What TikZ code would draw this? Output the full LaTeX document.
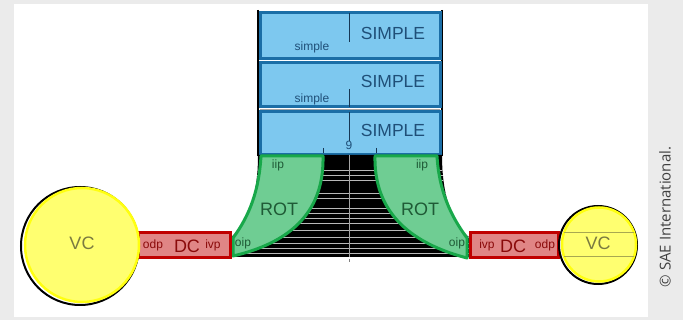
\documentclass[tikz,border=0pt]{standalone}
\usepackage{fontspec}
\setmainfont{Liberation Sans}
\newfontfamily\copyfont{Open Sans}
\definecolor{bluefill}{HTML}{7DC8EF}
\definecolor{blueedge}{HTML}{1B6EA6}
\definecolor{bluetext}{HTML}{1F4F78}
\definecolor{greenfill}{HTML}{6FCD93}
\definecolor{greenedge}{HTML}{18A84A}
\definecolor{greentext}{HTML}{1F5A36}
\definecolor{redfill}{HTML}{E08585}
\definecolor{rededge}{HTML}{C00000}
\definecolor{redtext}{HTML}{8A0A0A}
\definecolor{yelfill}{HTML}{FFFF70}
\definecolor{yeledge}{HTML}{FFFF10}
\definecolor{oltext}{HTML}{7A7A40}
\definecolor{olline}{HTML}{A8A850}
\definecolor{bggray}{HTML}{EBEBEB}
\tikzset{
  simplebox/.style={draw=blueedge,fill=bluefill,line width=3pt},
  rotshape/.style={draw=greenedge,fill=greenfill,line width=3pt,line join=round},
  dcbox/.style={draw=rededge,fill=redfill,line width=3pt},
  vcback/.style={draw=black,line width=2pt},
  vcface/.style={draw=yeledge,fill=yelfill,line width=2.5pt},
  bigblue/.style={text=bluetext,font=\fontsize{17.5}{17.5}\selectfont},
  smallblue/.style={text=bluetext,font=\fontsize{12}{12}\selectfont},
  bigtext/.style={font=\fontsize{18}{18}\selectfont},
  smalltext/.style={font=\fontsize{12}{12}\selectfont},
}
\begin{document}
\begin{tikzpicture}[x=1pt,y=-1pt]
\useasboundingbox (0,0) rectangle (683,320);
\fill[bggray] (0,0) rectangle (683,320);
\fill[white] (14,4) rectangle (648,317);

% black frame lines of the stack
\draw[black,line width=1.2pt] (258,10) -- (258,156);
\draw[black,line width=1.2pt] (442,10) -- (442,156);

% blue boxes
\draw[simplebox] (260,13) rectangle (440,59);
\draw[simplebox] (260,63) rectangle (440,107);
\draw[simplebox] (260,112) rectangle (440,155);
\draw[gray!70,line width=0.8pt] (260,109.5) -- (440,109.5);
\draw[bluetext!70!black,line width=0.6pt] (349,13) -- (349,42);
\draw[bluetext!70!black,line width=0.6pt] (349,89) -- (349,107);
\draw[bluetext!70!black,line width=0.6pt] (349,112) -- (349,141);
\node[bigblue] (s1) at (393,33) {SIMPLE};
\node[bigblue] (s2) at (393,81) {SIMPLE};
\node[bigblue] (s3) at (393,130) {SIMPLE};
\node[smallblue] (l1) at (312,47) {simple};
\node[smallblue] (l2) at (312,99) {simple};
\draw[bluetext!70!black,line width=0.6pt] (323,148) -- (323,153);
\draw[bluetext!70!black,line width=0.6pt] (376,148) -- (376,153);
\node[smallblue] (nine) at (349,145) {9};

% black bell region
\fill[black] (258,155) .. controls (258,200) and (246,225) .. (230,238) -- (230,257) -- (470,257) -- (470,238) .. controls (454,225) and (442,200) .. (442,155) -- cycle;
\begin{scope}
\clip (258,155) .. controls (258,200) and (246,225) .. (230,238) -- (230,257) -- (470,257) -- (470,238) .. controls (454,225) and (442,200) .. (442,155) -- cycle;
\foreach \yy in {170,175,180,193,198,208,213,218,223,230,237,243,248,253}
  \draw[gray!55,line width=0.4pt] (225,\yy) -- (475,\yy);
\end{scope}
\draw[gray!70,line width=0.5pt] (349,155) -- (349,257);
\draw[gray,line width=0.5pt] (349,259) -- (349,262);

% ROT shapes
\draw[rotshape] (261,156) -- (323,156) .. controls (324,202) and (302,240) .. (233,256) -- (233,238) .. controls (250,215) and (259,190) .. cycle;
\draw[rotshape] (437,156) -- (375,156) .. controls (374,202) and (398,240) .. (467,258) -- (467,238) .. controls (450,215) and (439,190) .. cycle;
\node[smalltext,text=greentext] (iipL) at (278,165) {iip};
\node[smalltext,text=greentext] (iipR) at (422,165) {iip};
\node[bigtext,text=greentext] (rotL) at (279,209) {ROT};
\node[bigtext,text=greentext] (rotR) at (420,209) {ROT};

% DC boxes
\draw[dcbox] (138,233) rectangle (230,258);
\draw[dcbox] (470,233) rectangle (558,258);
\node[smalltext,text=redtext] (odpL) at (153,245) {odp};
\node[bigtext,text=redtext] (dcL) at (187,246) {DC};
\node[smalltext,text=redtext] (ivpL) at (213,245) {ivp};
\node[smalltext,text=redtext] (ivpR) at (487,245) {ivp};
\node[bigtext,text=redtext] (dcR) at (513,246) {DC};
\node[smalltext,text=redtext] (odpR) at (545,245) {odp};
\node[smalltext,text=greentext] (oipL) at (243,243) {oip};
\node[smalltext,text=greentext] (oipR) at (457,243) {oip};

% VC circles
\draw[vcback] (80,246) circle (59);
\draw[vcface] (82,245) circle (57);
\node[bigtext,text=oltext] (vcL) at (82,243) {VC};
\draw[vcback] (598,245) circle (39);
\draw[vcface] (599,244.5) circle (37);
\draw[olline,line width=1pt] (564,233) -- (634,233);
\draw[olline,line width=1pt] (564,257) -- (634,257);
\node[bigtext,text=oltext] (vcR) at (598,243) {VC};

% copyright
\node[rotate=90,text=black!75,font=\copyfont\fontsize{15}{15}\selectfont] (copy) at (665,217) {© SAE International.};
\end{tikzpicture}
\end{document}
